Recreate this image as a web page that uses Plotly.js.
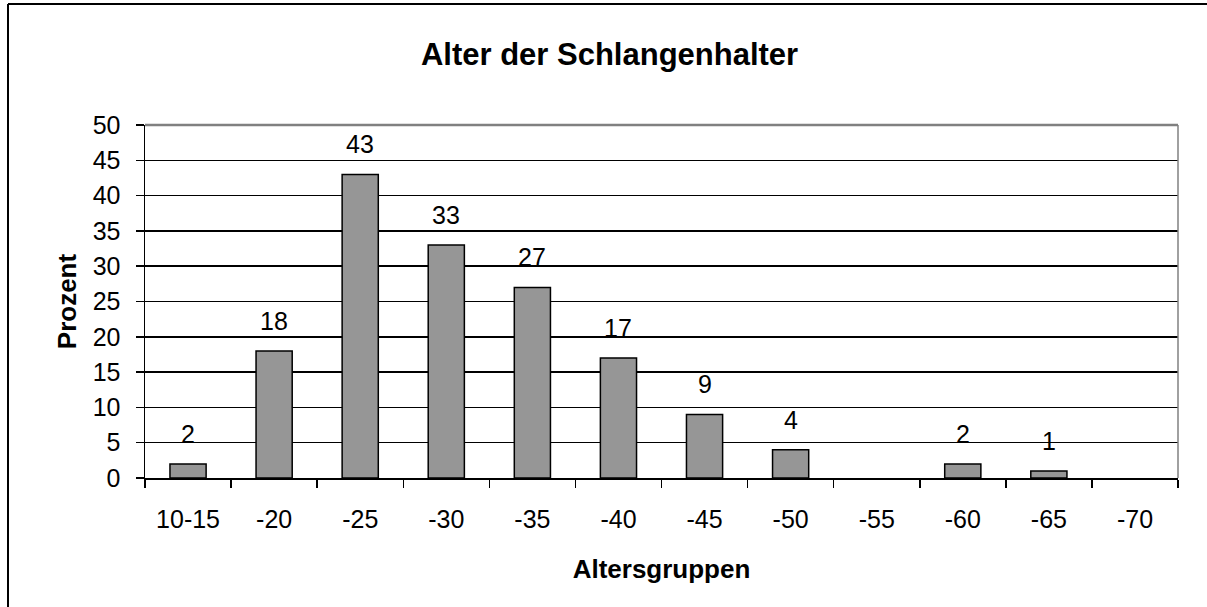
<!DOCTYPE html>
<html>
<head>
<meta charset="utf-8">
<script src="https://cdn.plot.ly/plotly-3.0.1.min.js"></script>
<style>
html,body{margin:0;padding:0;background:#fff;}
#chart{width:1207px;height:607px;}
</style>
</head>
<body>
<div id="chart"></div>
<script>
const categories = ["10-15","-20","-25","-30","-35","-40","-45","-50","-55","-60","-65","-70"];
const percentValues = [2,18,43,33,27,17,9,4,null,2,1,null];
const labelTexts = ["2","18","43","33","27","17","9","4","","2","1",""];
const yTickValues = [0,5,10,15,20,25,30,35,40,45,50];

const FONT = "Liberation Sans, Arial, sans-serif";
const L = 145, R = 29, T = 125, B = 129;
const W = 1207 - L - R, H = 607 - T - B;
const px = x => (x - L) / W;
const py = y => (607 - B - y) / H;

const trace = {
  type: "bar",
  x: categories,
  y: percentValues,
  width: 0.42,
  marker: {color: "#969696", line: {color: "#000000", width: 1.5}},
  hoverinfo: "x+y"
};

const annotations = [];
categories.forEach((c, i) => {
  if (percentValues[i] === null || labelTexts[i] === "") return;
  annotations.push({
    x: i, y: percentValues[i], xref: "x", yref: "y",
    text: labelTexts[i], showarrow: false, yanchor: "bottom", yshift: 14,
    font: {family: FONT, size: 25, color: "#000"}
  });
});

const layout = {
  width: 1207, height: 607,
  margin: {l: L, r: R, t: T, b: B, pad: 0},
  paper_bgcolor: "#ffffff", plot_bgcolor: "#ffffff",
  showlegend: false,
  font: {family: FONT, color: "#000"},
  title: {text: "<b>Alter der Schlangenhalter</b>", font: {family: FONT, size: 31, color: "#000"},
          x: 0.505, xanchor: "center", y: 1 - 54/607, yanchor: "middle"},
  xaxis: {
    type: "category", range: [-0.5, 11.5], fixedrange: true,
    showgrid: false, zeroline: false,
    showline: true, linecolor: "#000", linewidth: 1.5,
    ticks: "outside", tickson: "boundaries", ticklen: 8, tickwidth: 1.5, tickcolor: "#000",
    ticklabelstandoff: 18,
    tickfont: {family: FONT, size: 25, color: "#000"},
    title: {text: "<b>Altersgruppen</b>", font: {family: FONT, size: 26, color: "#000"}, standoff: 28}
  },
  yaxis: {
    range: [0, 50], tickvals: yTickValues, fixedrange: true,
    showgrid: true, gridcolor: "#000", gridwidth: 1.5,
    zeroline: false,
    showline: true, linecolor: "#000", linewidth: 1.5,
    ticks: "outside", ticklen: 8, tickwidth: 1.5, tickcolor: "#000",
    ticklabelstandoff: 10,
    tickfont: {family: FONT, size: 25, color: "#000"},
    title: {text: "<b>Prozent</b>", font: {family: FONT, size: 26, color: "#000"}, standoff: 8}
  },
  annotations: annotations,
  shapes: [
    {type: "line", xref: "paper", yref: "paper", x0: 0, x1: 1, y0: 1, y1: 1, line: {color: "#808080", width: 2.5}},
    {type: "line", xref: "paper", yref: "paper", x0: 1, x1: 1, y0: 0, y1: 1, line: {color: "#808080", width: 1.5}},
    {type: "line", xref: "paper", yref: "paper", x0: px(8), x1: px(8), y0: py(4), y1: py(607), line: {color: "#000", width: 2}},
    {type: "line", xref: "paper", yref: "paper", x0: px(8), x1: px(1207), y0: py(4), y1: py(4), line: {color: "#000", width: 2}}
  ]
};

Plotly.newPlot("chart", [trace], layout, {displayModeBar: false, staticPlot: true});
</script>
</body>
</html>
